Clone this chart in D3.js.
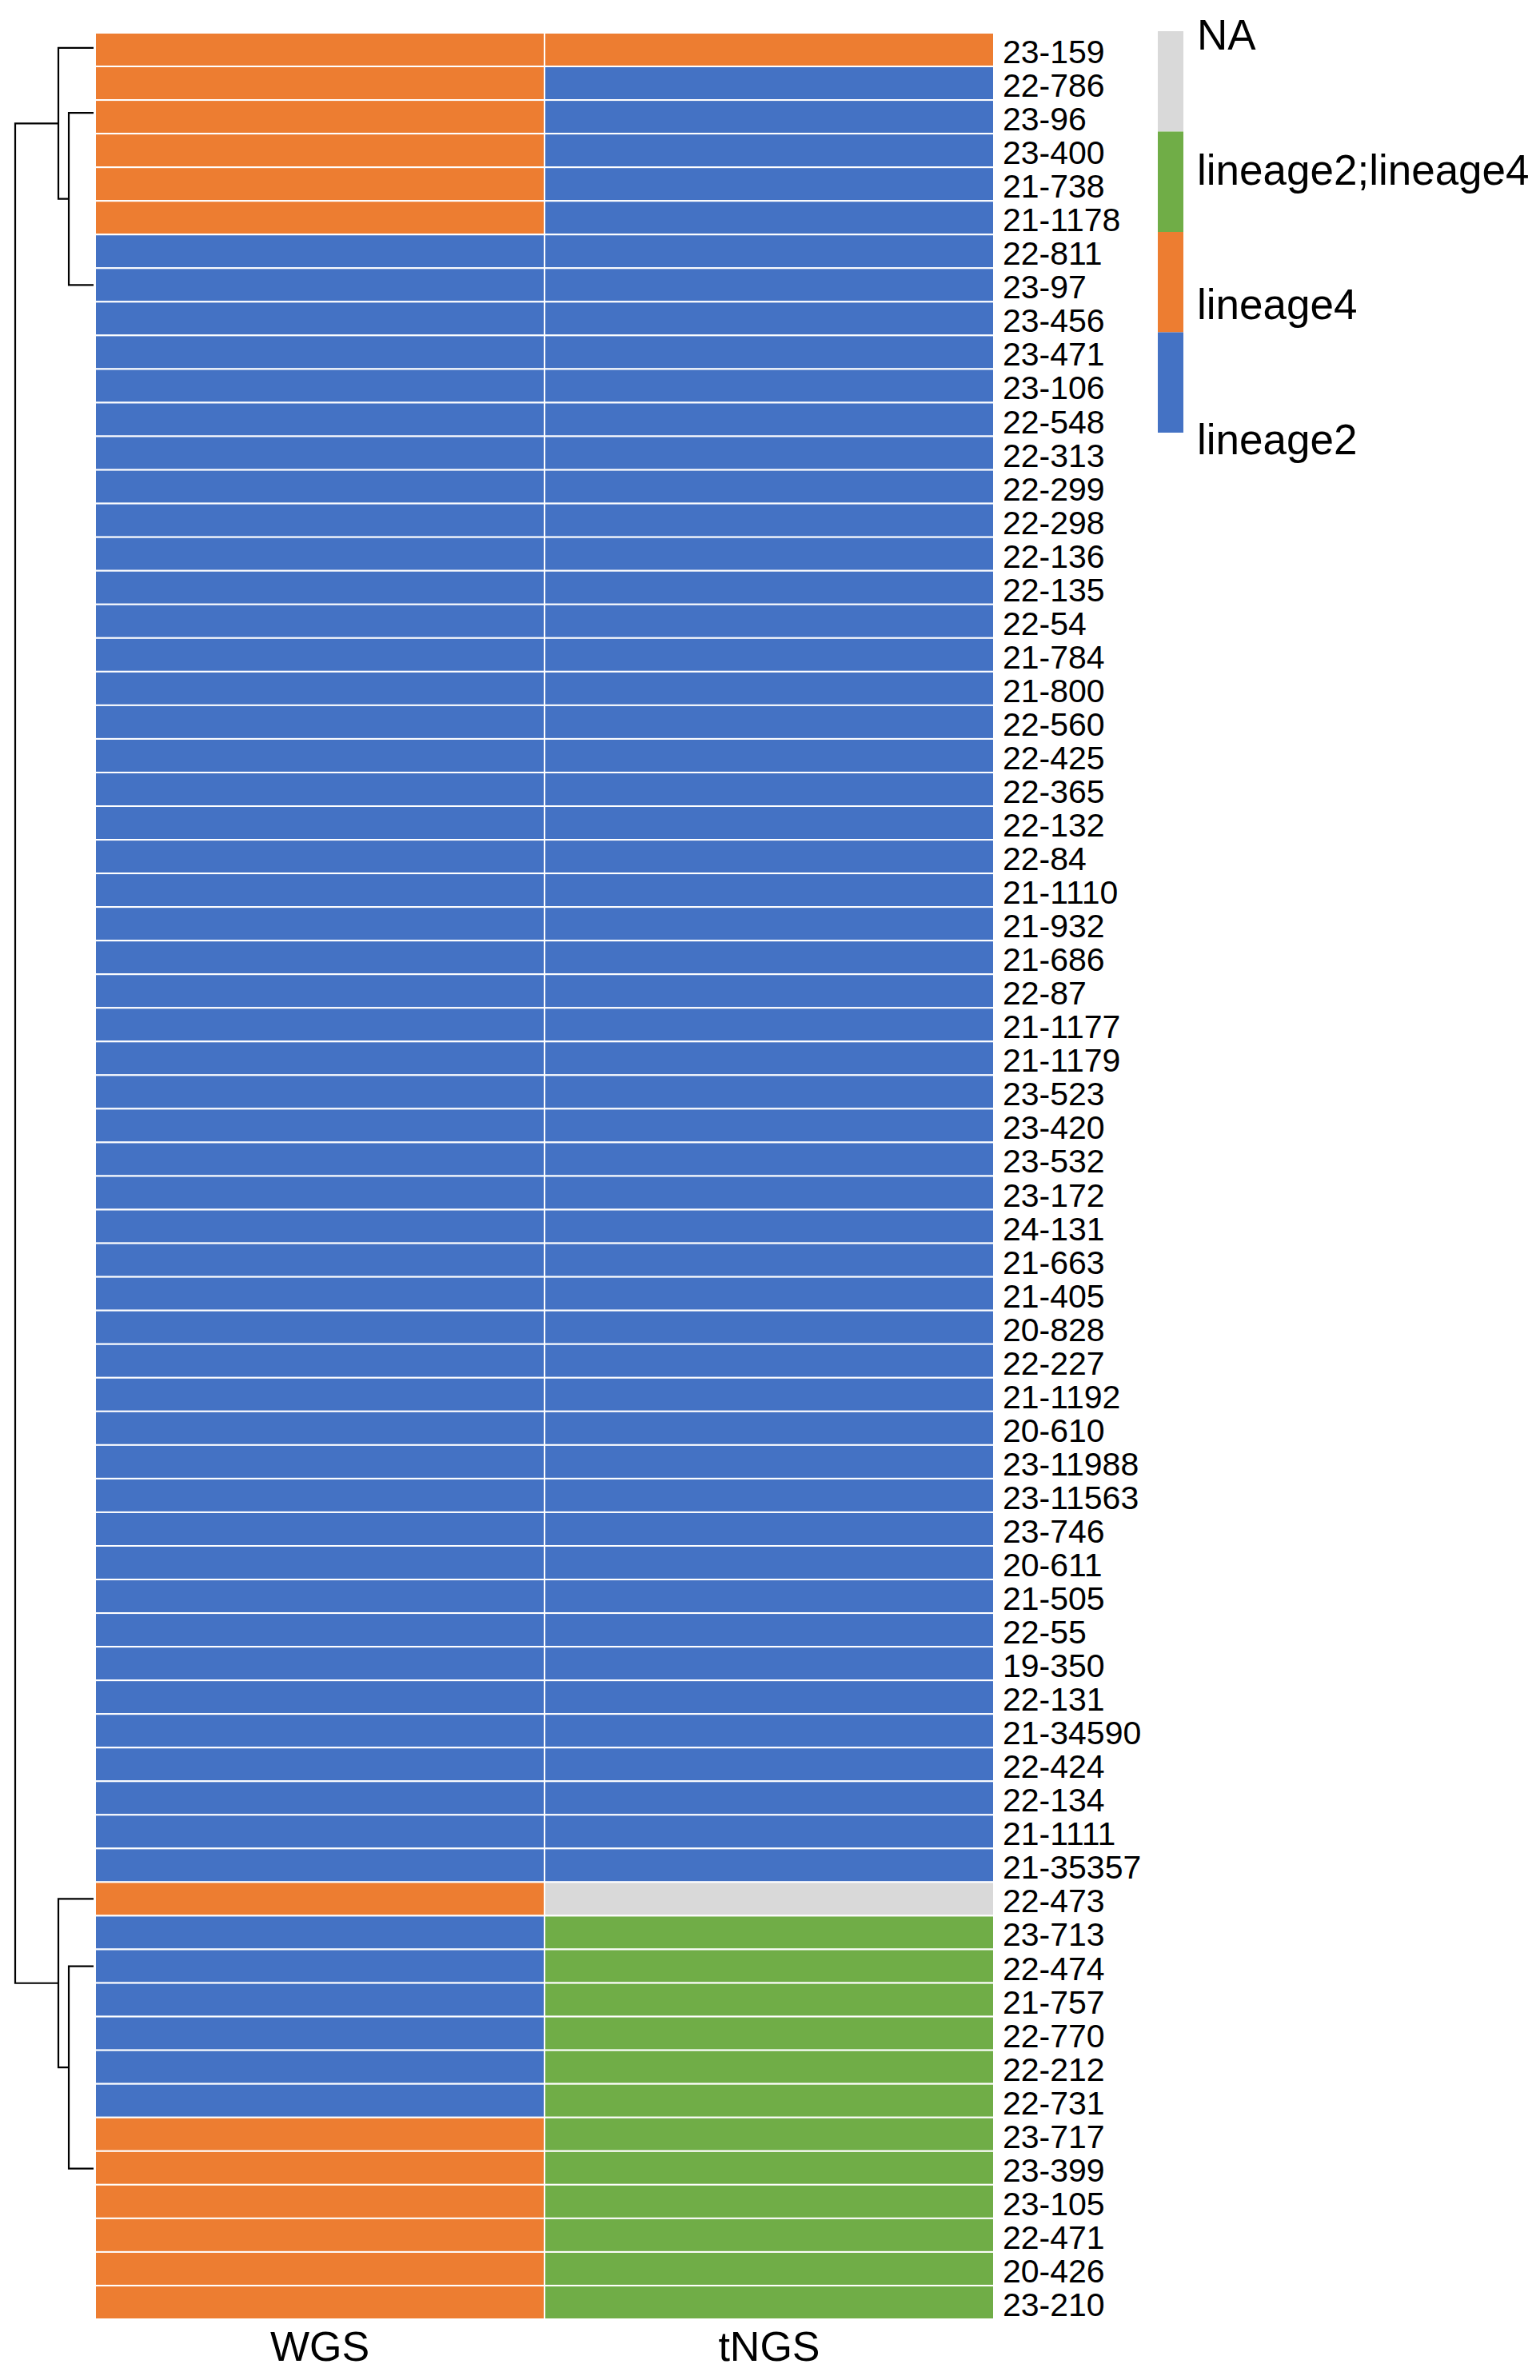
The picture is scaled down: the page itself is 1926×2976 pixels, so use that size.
<!DOCTYPE html>
<html>
<head>
<meta charset="utf-8">
<script src="https://cdn.jsdelivr.net/npm/d3@7"></script>
<style>
  html, body { margin: 0; padding: 0; background: #ffffff; }
  svg { display: block; }
  text { font-family: "Liberation Sans", Arial, Helvetica, sans-serif; fill: #000; }
</style>
</head>
<body>
<svg id="chart" width="1926" height="2976"></svg>
<script>
// ---------------- DATA ----------------
const rowLabels = [
  "23-159","22-786","23-96","23-400","21-738","21-1178","22-811","23-97","23-456","23-471",
  "23-106","22-548","22-313","22-299","22-298","22-136","22-135","22-54","21-784","21-800",
  "22-560","22-425","22-365","22-132","22-84","21-1110","21-932","21-686","22-87","21-1177",
  "21-1179","23-523","23-420","23-532","23-172","24-131","21-663","21-405","20-828","22-227",
  "21-1192","20-610","23-11988","23-11563","23-746","20-611","21-505","22-55","19-350","22-131",
  "21-34590","22-424","22-134","21-1111","21-35357","22-473","23-713","22-474","21-757","22-770",
  "22-212","22-731","23-717","23-399","23-105","22-471","20-426","23-210"
];
const columns = ["WGS", "tNGS"];
const categories = ["NA", "lineage2;lineage4", "lineage4", "lineage2"];
const categoryColors = ["#D9D9D9", "#70AD47", "#ED7D31", "#4472C4"];

const wgsValues = [
  "lineage4","lineage4","lineage4","lineage4","lineage4","lineage4",
  ...Array(49).fill("lineage2"),
  "lineage4",
  "lineage2","lineage2","lineage2","lineage2","lineage2","lineage2",
  "lineage4","lineage4","lineage4","lineage4","lineage4","lineage4"
];
const tngsValues = [
  "lineage4",
  "lineage2","lineage2","lineage2","lineage2","lineage2",
  ...Array(49).fill("lineage2"),
  "NA",
  ...Array(12).fill("lineage2;lineage4")
];

// dendrogram: leaf positions (in row units) and merge heights (relative)
const dendroLeafPos = [0.45, 2.38, 7.5, 55.5, 57.5, 63.52];
const dendroMerges = [   // [childA, childB, height]; negative = leaf index (-(i+1)), positive = merge index (1-based)
  [-2, -3, 0.316],
  [-1, 1, 0.449],
  [-5, -6, 0.316],
  [-4, 3, 0.449],
  [2, 4, 1.0]
];

// ---------------- LAYOUT ----------------
const svg = d3.select("#chart");
const hmTop = 41, hmBottom = 2900, hmLeft = 119, hmRight = 1243;

const y = d3.scaleBand().domain(rowLabels).range([hmTop, hmBottom]).padding(0);
const x = d3.scaleBand().domain(columns).range([hmLeft, hmRight]).padding(0);
const color = d3.scaleOrdinal().domain(categories).range(categoryColors);
const rowUnit = d3.scaleLinear().domain([0, rowLabels.length]).range([hmTop, hmBottom]);
const dh = d3.scaleLinear().domain([0, 1]).range([117, 19]);

// cells
const cells = [];
rowLabels.forEach((r, i) => {
  cells.push({ row: r, col: "WGS", v: wgsValues[i] });
  cells.push({ row: r, col: "tNGS", v: tngsValues[i] });
});
svg.append("g").selectAll("rect").data(cells).join("rect")
  .attr("x", d => x(d.col))
  .attr("y", d => y(d.row))
  .attr("width", x.bandwidth())
  .attr("height", y.bandwidth())
  .attr("fill", d => color(d.v))
  .attr("stroke", "#ffffff")
  .attr("stroke-width", 2);

// row labels
svg.append("g").selectAll("text").data(rowLabels).join("text")
  .attr("x", hmRight + 11)
  .attr("y", d => y(d) + y.bandwidth() / 2 + 17)
  .attr("font-size", 41)
  .text(d => d);

// column labels
svg.append("g").selectAll("text").data(columns).join("text")
  .attr("x", d => x(d) + x.bandwidth() / 2)
  .attr("y", 2952)
  .attr("text-anchor", "middle")
  .attr("font-size", 52)
  .text(d => d);

// dendrogram
const nodes = [];
function nodeInfo(ref) {
  if (ref < 0) return { y: rowUnit(dendroLeafPos[-ref - 1]), h: 0 };
  return nodes[ref - 1];
}
dendroMerges.forEach(m => {
  const a = nodeInfo(m[0]), b = nodeInfo(m[1]);
  nodes.push({ y: (a.y + b.y) / 2, h: m[2], a, b });
});
const dg = svg.append("g").attr("fill", "none").attr("stroke", "#000").attr("stroke-width", 2.2);
dg.selectAll("path").data(nodes).join("path")
  .attr("d", n => {
    const xn = dh(n.h);
    return `M${dh(n.a.h)},${n.a.y}H${xn}V${n.b.y}H${dh(n.b.h)}`;
  });

// legend
const legY = d3.scaleBand().domain(categories).range([39, 541]).padding(0);
const legLabelY = d3.scalePoint().domain(categories).range([43, 549]);
const lg = svg.append("g");
lg.selectAll("rect").data(categories).join("rect")
  .attr("x", 1448)
  .attr("y", d => legY(d))
  .attr("width", 32)
  .attr("height", legY.bandwidth())
  .attr("fill", d => color(d));
lg.selectAll("text").data(categories).join("text")
  .attr("x", 1497)
  .attr("y", d => legLabelY(d) + 19)
  .attr("font-size", 53)
  .text(d => d);
</script>
</body>
</html>
